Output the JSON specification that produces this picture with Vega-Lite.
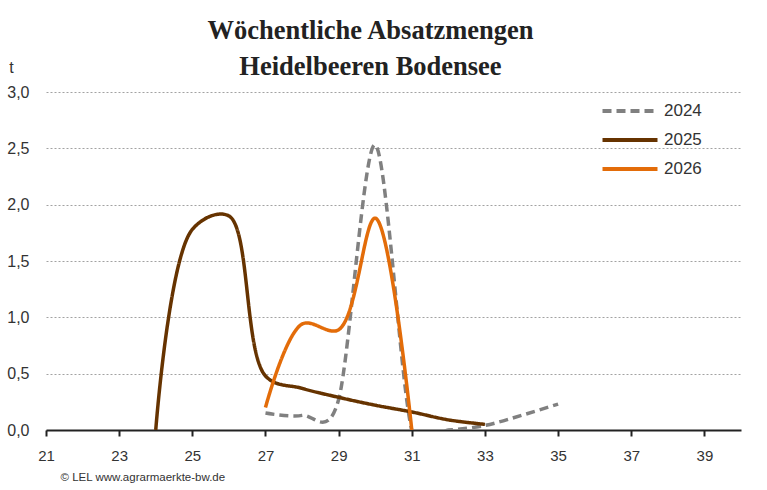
{
  "$schema": "https://vega.github.io/schema/vega-lite/v6.json",
  "width": 695,
  "height": 338,
  "autosize": {"type": "none"},
  "padding": {"left": 46, "top": 92, "right": 26, "bottom": 60},
  "background": "white",
  "title": {
    "text": ["Wöchentliche Absatzmengen", "Heidelbeeren Bodensee"],
    "font": "Liberation Serif",
    "fontSize": 26.5,
    "fontWeight": "bold",
    "color": "#222222",
    "anchor": "middle",
    "dx": -23,
    "lineHeight": 36,
    "offset": -21
  },
  "data": {
    "values": [
      {"week": 27, "year": "2024", "t": 0.15},
      {"week": 28, "year": "2024", "t": 0.13},
      {"week": 29, "year": "2024", "t": 0.27},
      {"week": 30, "year": "2024", "t": 2.53},
      {"week": 31, "year": "2024", "t": 0},
      {"week": 32, "year": "2024", "t": 0},
      {"week": 33, "year": "2024", "t": 0.04},
      {"week": 34, "year": "2024", "t": 0.13},
      {"week": 35, "year": "2024", "t": 0.23},
      {"week": 24, "year": "2025", "t": 0},
      {"week": 25, "year": "2025", "t": 1.78},
      {"week": 26, "year": "2025", "t": 1.9},
      {"week": 27, "year": "2025", "t": 0.48},
      {"week": 28, "year": "2025", "t": 0.37},
      {"week": 29, "year": "2025", "t": 0.29},
      {"week": 30, "year": "2025", "t": 0.22},
      {"week": 31, "year": "2025", "t": 0.16},
      {"week": 32, "year": "2025", "t": 0.09},
      {"week": 33, "year": "2025", "t": 0.05},
      {"week": 27, "year": "2026", "t": 0.2},
      {"week": 28, "year": "2026", "t": 0.94},
      {"week": 29, "year": "2026", "t": 0.89},
      {"week": 30, "year": "2026", "t": 1.88},
      {"week": 31, "year": "2026", "t": 0}
    ]
  },
  "encoding": {
    "x": {
      "field": "week",
      "type": "quantitative",
      "scale": {"domain": [21, 40], "nice": false, "zero": false},
      "axis": {
        "values": [21, 23, 25, 27, 29, 31, 33, 35, 37, 39],
        "grid": false,
        "labelFlush": false,
        "domainColor": "#222222",
        "domainWidth": 2,
        "tickColor": "#222222",
        "tickWidth": 2,
        "tickSize": 6,
        "labelFont": "Liberation Sans",
        "labelFontSize": 15,
        "labelColor": "#333333",
        "labelPadding": 12,
        "title": "© LEL www.agrarmaerkte-bw.de",
        "titleFont": "Liberation Sans",
        "titleFontSize": 11.5,
        "titleFontWeight": "normal",
        "titleColor": "#333333",
        "titleAnchor": "start",
        "titleAlign": "left",
        "titleBaseline": "alphabetic",
        "titleX": 14,
        "titleY": 50
      }
    },
    "y": {
      "field": "t",
      "type": "quantitative",
      "scale": {"domain": [0, 3], "nice": false},
      "axis": {
        "values": [0, 0.5, 1, 1.5, 2, 2.5, 3],
        "labelExpr": "replace(format(datum.value, '.1f'), '.', ',')",
        "labelFlush": false,
        "domain": false,
        "ticks": false,
        "tickSize": 0,
        "grid": true,
        "gridColor": "#8a8a8a",
        "gridWidth": 0.8,
        "gridDash": [2, 2],
        "labelFont": "Liberation Sans",
        "labelFontSize": 16,
        "labelColor": "#333333",
        "labelPadding": 17,
        "title": "t",
        "titleFont": "Liberation Sans",
        "titleFontSize": 16,
        "titleFontWeight": "normal",
        "titleColor": "#333333",
        "titleAngle": 0,
        "titleAlign": "center",
        "titleBaseline": "middle",
        "titleX": -35,
        "titleY": -25
      }
    },
    "color": {
      "field": "year",
      "type": "nominal",
      "scale": {"domain": ["2024", "2025", "2026"], "range": ["#808080", "#663300", "#E36C09"]},
      "legend": {
        "title": null,
        "orient": "none",
        "legendX": 571,
        "legendY": 6,
        "symbolType": "M-2.5,0L2.5,0",
        "symbolSize": 484,
        "symbolStrokeWidth": 4,
        "rowPadding": 8,
        "labelFont": "Liberation Sans",
        "labelFontSize": 17,
        "labelColor": "#333333",
        "labelOffset": 21
      }
    },
    "strokeDash": {
      "field": "year",
      "type": "nominal",
      "scale": {"domain": ["2024", "2025", "2026"], "range": [[9, 5], [1, 0], [1, 0]]},
      "legend": null
    }
  },
  "layer": [
    {
      "transform": [{"filter": "datum.year == '2024'"}],
      "mark": {"type": "line", "interpolate": "cardinal", "tension": 0.1, "strokeWidth": 3.5, "clip": true, "strokeCap": "butt"}
    },
    {
      "transform": [{"filter": "datum.year != '2024'"}],
      "mark": {"type": "line", "interpolate": "catmull-rom", "strokeWidth": 3.5, "clip": true, "strokeCap": "butt"}
    }
  ],
  "config": {
    "view": {"stroke": null}
  }
}
